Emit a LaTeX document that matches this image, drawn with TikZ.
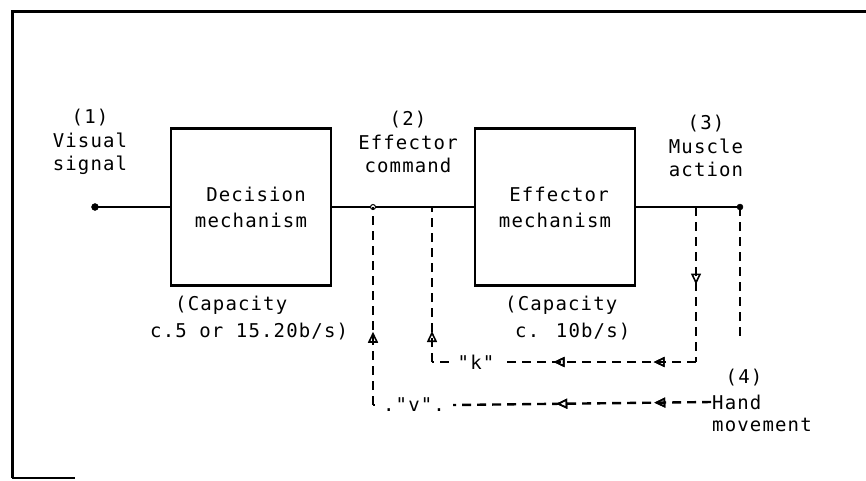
\documentclass[tikz,border=0pt]{standalone}
\usepackage{fontspec}
\setmainfont[LetterSpace=6, Ligatures=TeXOff]{DejaVu Sans Mono}
\usetikzlibrary{arrows.meta,decorations.markings}
\tikzset{
    lbl/.style={inner sep=1pt, align=center, font=\fontsize{19}{23.5}\selectfont},
    mechbox/.style={draw, line width=2.6pt, minimum width=160pt, minimum height=157pt, align=center, font=\fontsize{19}{26}\selectfont},
    sig/.style={line width=2.4pt},
    fb/.style={line width=2.4pt, dash pattern=on 9pt off 6pt},
    fbtip/.style={postaction={decorate}, decoration={markings, mark=at position #1 with {\arrow[line width=1.6pt, solid]{Triangle[open, length=11pt, width=10pt]}}}}
}
\begin{document}
\begin{tikzpicture}[x=1pt, y=-1pt]
    \useasboundingbox (0,0) rectangle (866,480);
    \draw[line width=3pt] (866,11)--(12,11)--(12,478);
    \draw[line width=1.2pt] (12,478)--(75,478);

    \node[mechbox] (decision) at (251,207) {\hspace*{10pt}Decision\\mechanism};
    \node[mechbox] (effector) at (555,207) {\hspace*{8pt}Effector\\mechanism};

    \coordinate (input) at (95,207);
    \coordinate (cmdv) at (373,207);
    \coordinate (cmdk) at (432,207);
    \coordinate (musk) at (696,207);
    \coordinate (output) at (740,207);
    \coordinate (handend) at (740,338);
    \coordinate (kright) at (696,362);
    \coordinate (kleft) at (432,362);
    \coordinate (vleft) at (373,405);

    \draw[sig] (input)--(decision.west);
    \draw[sig] (decision.east)--(effector.west);
    \draw[sig] (effector.east)--(output);
    \filldraw (input) circle (3.5pt);
    \filldraw (output) circle (3pt);
    \filldraw[fill=white, line width=1pt] (cmdv) circle (2.5pt);

    \node[lbl] (visual) at (90,142) {(1)\\Visual\\signal};
    \node[lbl] (command) at (408,142) {(2)\\Effector\\command};
    \node[lbl] (muscle) at (706,146) {(3)\\Muscle\\action};
    \node[lbl] (four) at (744,378) {(4)};
    \node[lbl, anchor=west] (hand) at (711,402) {Hand};
    \node[lbl, anchor=west] (movement) at (711,425) {movement};

    \node[lbl, anchor=west] (capd) at (174,305) {(Capacity};
    \node[lbl, anchor=west] (capdval) at (149,332) {c.5 or 15.20b/s)};
    \node[lbl, anchor=west] (cape) at (504,305) {(Capacity};
    \node[lbl, anchor=west] (capeval) at (514,332) {c. 10b/s)};

    \node[lbl, inner xsep=9pt] (klabel) at (476,362) {"k"};
    \node[lbl, inner xsep=8pt] (vlabel) at (414,405) {."v".};

    \draw[fb, fbtip=0.5] (musk)--(kright);
    \draw[fb, fbtip=0.22, fbtip=0.74] (kright)--(klabel.east);
    \draw[fb] (klabel.west)--(kleft);
    \draw[fb, fbtip=0.2] (kleft)--(cmdk);

    \draw[fb, fbtip=0.22, fbtip=0.6] (hand.west)--(vlabel.east);
    \draw[fb] (vlabel.west)--(vleft);
    \draw[fb, fbtip=0.37] (vleft)--(cmdv);

    \draw[fb] (output)--(handend);
\end{tikzpicture}
\end{document}
